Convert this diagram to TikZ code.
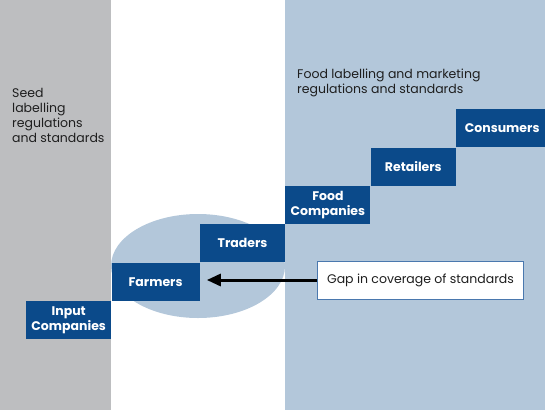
\documentclass[tikz,border=0pt]{standalone}
\usepackage{fontspec}
\setmainfont{Poppins}
\usepackage{tikz}
\usetikzlibrary{arrows.meta}
\definecolor{seedgrey}{HTML}{BDBEC0}
\definecolor{foodblue}{HTML}{B3C7DA}
\definecolor{chainblue}{HTML}{0B4A8A}
\definecolor{noteedge}{HTML}{4A78AE}
\definecolor{labeltext}{HTML}{1E1E1E}
\tikzset{
  stepbox/.style={fill=chainblue, text=white, font=\fontsize{12.5}{14.5}\selectfont\bfseries, align=center, minimum width=85pt, minimum height=38pt, inner sep=0pt},
  panellabel/.style={anchor=north west, align=left, inner sep=0pt, text=labeltext, font=\fontsize{12.5}{15}\selectfont},
  gapnote/.style={draw=noteedge, line width=1pt, fill=white, text=labeltext, minimum width=206pt, minimum height=38pt, font=\fontsize{12.5}{15}\selectfont},
  arrow/.style={-{Triangle[length=14pt,width=12pt]}, line width=3pt}
}

\begin{document}
\begin{tikzpicture}[x=1pt,y=-1pt]
  \useasboundingbox (0,0) rectangle (545,410);
  % regulated zones
  \fill[seedgrey] (0,0) rectangle (111,410);
  \fill[foodblue] (285,0) rectangle (545,410);
  \fill[foodblue] (198,266) ellipse [x radius=87, y radius=52];
  \node[panellabel] (seedtext) at (12,88) {Seed\\labelling\\regulations\\and standards};
  \node[panellabel] (foodtext) at (297,69) {Food labelling and marketing\\regulations and standards};

  % the chain, one step up each time
  \node[stepbox, anchor=north west] (input) at (26,301) {Input\\Companies};
  \node[stepbox, anchor=south west, minimum width=88pt] (farmers) at (input.north east) {Farmers};
  \node[stepbox, anchor=south west] (traders) at (farmers.north east) {Traders};
  \node[stepbox, anchor=south west] (food) at (traders.north east) {Food\\Companies};
  \node[stepbox, anchor=south west] (retailers) at (food.north east) {Retailers};
  \node[stepbox, anchor=south west, minimum width=92pt] (consumers) at (retailers.north east) {Consumers};

  \node[gapnote, anchor=west] (gap) at (317,280) {Gap in coverage of standards};
  \draw[arrow, shorten >=7pt] (gap.west) -- (gap.west -| farmers.east);
\end{tikzpicture}
\end{document}
